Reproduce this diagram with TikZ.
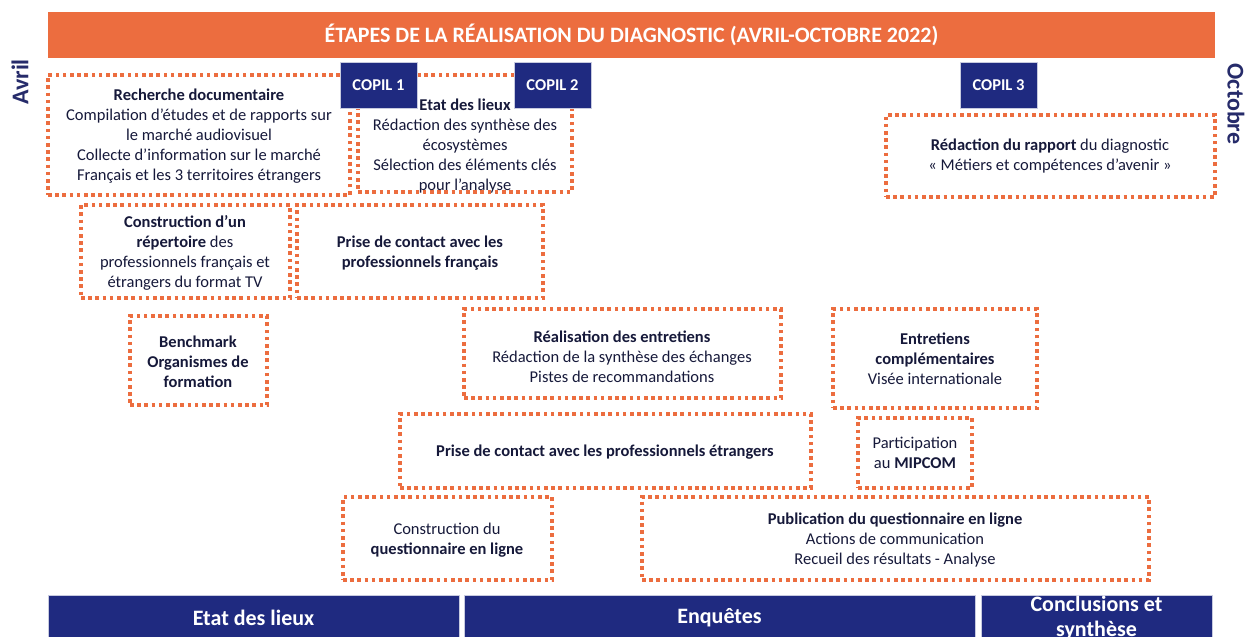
\documentclass[tikz,border=0pt]{standalone}
\usepackage{fontspec}
\setmainfont{Carlito}
\definecolor{orng}{HTML}{EC6D3F}
\definecolor{navy}{HTML}{1F2A80}
\definecolor{ink}{HTML}{16193A}
\definecolor{side}{HTML}{262B6A}
\begin{document}
\begin{tikzpicture}[x=1pt,y=-1pt,
 dbox/.style={draw=orng, line width=3.6pt, dash pattern=on 3.6pt off 3.6pt, inner sep=0pt},
 txt/.style={text=ink, align=center, font=\fontsize{16.5}{20}\selectfont, inner sep=0pt},
 copil/.style={fill=navy, draw=white!75!navy, line width=0.8pt, text=white, font=\bfseries\fontsize{16.5}{18}\selectfont, minimum width=77pt, minimum height=46pt, inner sep=0pt},
 bar/.style={fill=navy, draw=white!75!navy, line width=0.6pt, text=white, font=\bfseries\fontsize{22}{25}\selectfont, inner sep=0pt, align=center, minimum height=46pt},
 side/.style={text=side, font=\bfseries\fontsize{24}{26}\selectfont, inner sep=0pt},
]
\useasboundingbox (0,0) rectangle (1250,637);
\clip (0,0) rectangle (1250,637);
\fill[white] (0,0) rectangle (1250,637);

% title
\node[fill=orng, minimum width=1167pt, minimum height=46pt, inner sep=0pt, text=white, font=\bfseries\fontsize{22}{24}\selectfont] (title) at (631.5,35) {ÉTAPES DE LA RÉALISATION DU DIAGNOSTIC (AVRIL-OCTOBRE 2022)};

% side labels
\node[side, rotate=90] (avril) at (20,82) {Avril};
\node[side, rotate=-90] (octobre) at (1236,104) {Octobre};

% dotted boxes
\node[dbox, minimum width=302pt, minimum height=120pt] (A) at (199,135) {};
\node[dbox, minimum width=214pt, minimum height=117pt] (B) at (465,133.5) {};
\node[dbox, minimum width=329pt, minimum height=82pt] (C) at (1050.5,156) {};
\node[dbox, minimum width=209pt, minimum height=93pt] (D) at (185.5,251.5) {};
\node[dbox, minimum width=246pt, minimum height=93pt] (E) at (420,251.5) {};
\node[dbox, minimum width=137pt, minimum height=89pt] (F) at (198.5,360.5) {};
\node[dbox, minimum width=317pt, minimum height=89pt] (G) at (622.5,353.5) {};
\node[dbox, minimum width=204pt, minimum height=99pt] (H) at (935,358.5) {};
\node[dbox, minimum width=411pt, minimum height=74pt] (I) at (605.5,451) {};
\node[dbox, minimum width=114pt, minimum height=70pt] (J) at (915,453) {};
\node[dbox, minimum width=209pt, minimum height=83pt] (K) at (447.5,538.5) {};
\node[dbox, minimum width=507pt, minimum height=83pt] (L) at (895.5,538.5) {};

% texts
\node[txt] (At) at (199,136.5) {\textbf{Recherche documentaire}\\Compilation d’études et de rapports sur\\le marché audiovisuel\\Collecte d’information sur le marché\\Français et les 3 territoires étrangers};
\node[txt] (Bt) at (465,146) {\textbf{Etat des lieux}\\Rédaction des synthèse des\\écosystèmes\\Sélection des éléments clés\\pour l’analyse};
\node[txt] (Ct) at (1050,156) {\textbf{Rédaction du rapport} du diagnostic\\« Métiers et compétences d’avenir »};
\node[txt] (Dt) at (185,253) {\textbf{Construction d’un}\\\textbf{répertoire} des\\professionnels français et\\étrangers du format TV};
\node[txt] (Et) at (420,253) {\textbf{Prise de contact avec les}\\\textbf{professionnels français}};
\node[txt] (Ft) at (198,361.5) {\textbf{Benchmark}\\\textbf{Organismes de}\\\textbf{formation}};
\node[txt] (Gt) at (622,357) {\textbf{Réalisation des entretiens}\\Rédaction de la synthèse des échanges\\Pistes de recommandations};
\node[txt] (Ht) at (935,359) {\textbf{Entretiens}\\\textbf{complémentaires}\\Visée internationale};
\node[txt] (It) at (605,452) {\textbf{Prise de contact avec les professionnels étrangers}};
\node[txt] (Jt) at (915,453) {Participation\\au \textbf{MIPCOM}};
\node[txt] (Kt) at (447,540) {Construction du\\\textbf{questionnaire en ligne}};
\node[txt] (Lt) at (895,540) {\textbf{Publication du questionnaire en ligne}\\Actions de communication\\Recueil des résultats - Analyse};

% COPIL boxes
\node[copil] (c1) at (378.5,85) {COPIL 1};
\node[copil] (c2) at (552.5,85) {COPIL 2};
\node[copil] (c3) at (998.5,85) {COPIL 3};

% bottom bars
\node[bar, minimum width=411pt] (b1) at (253.5,618) {Etat des lieux};
\node[bar, minimum width=511pt] (b2) at (719.5,618) {Enquêtes};
\node[bar, minimum width=231pt] (b3) at (1096.5,618) {Conclusions et\\synthèse};
\end{tikzpicture}
\end{document}
